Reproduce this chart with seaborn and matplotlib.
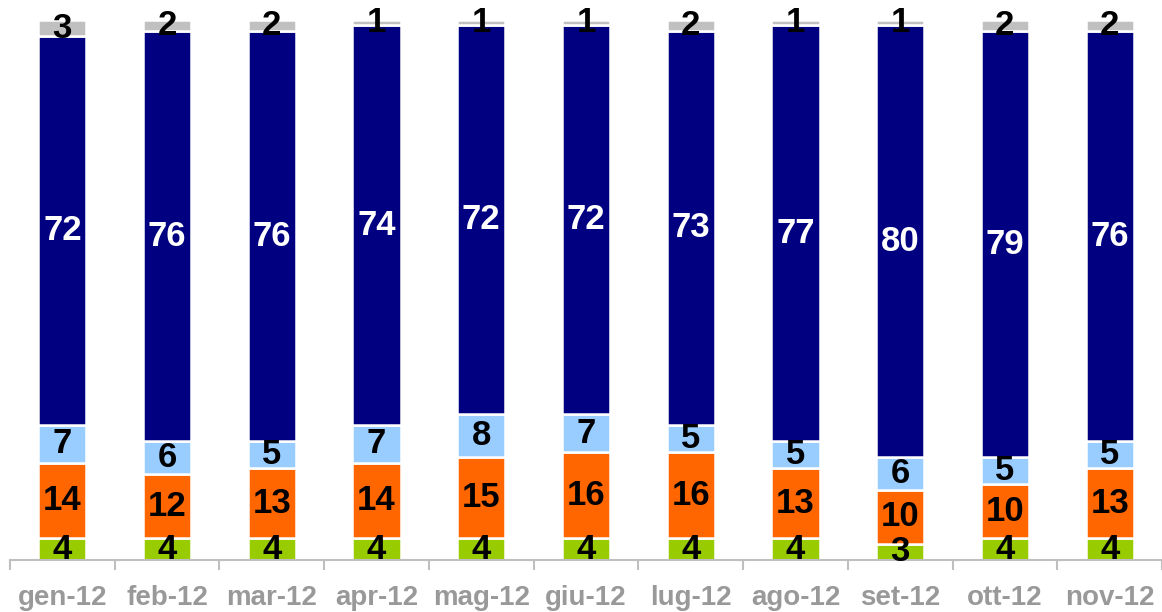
import matplotlib
matplotlib.use("Agg")
import matplotlib.pyplot as plt
import numpy as np
import pandas as pd
import seaborn as sns

months = ["gen-12", "feb-12", "mar-12", "apr-12", "mag-12", "giu-12",
          "lug-12", "ago-12", "set-12", "ott-12", "nov-12"]
green = [4, 4, 4, 4, 4, 4, 4, 4, 3, 4, 4]
orange = [14, 12, 13, 14, 15, 16, 16, 13, 10, 10, 13]
light_blue = [7, 6, 5, 7, 8, 7, 5, 5, 6, 5, 5]
navy = [72, 76, 76, 74, 72, 72, 73, 77, 80, 79, 76]
grey = [3, 2, 2, 1, 1, 1, 2, 1, 1, 2, 2]

series = [
    (green, "#99CC00", "black"),
    (orange, "#FF6600", "black"),
    (light_blue, "#99CCFF", "black"),
    (navy, "#000080", "white"),
    (grey, "#C0C0C0", "black"),
]

sns.set_theme(style="white")
plt.rcParams["font.family"] = ["Liberation Sans", "DejaVu Sans"]

fig = plt.figure(figsize=(11.62, 6.12), dpi=100)
ax = fig.add_axes([10 / 1162, 52 / 612, 1 - 10 / 1162, 540 / 612])

df = pd.DataFrame({"month": months})
cum = np.zeros(len(months))
for vals, col, txt in series:
    df["v"] = vals
    n_before = len(ax.patches)
    sns.barplot(data=df, x="month", y="v", bottom=cum, color=col, width=0.46,
                saturation=1, edgecolor="white", linewidth=1.8, ax=ax)
    bars = ax.patches[n_before:]
    for bar, v, b in zip(bars, vals, cum):
        ax.text(bar.get_x() + bar.get_width() / 2, b + v / 2, str(v),
                ha="center", va="center", color=txt, fontsize=25,
                fontweight="bold")
    cum = cum + np.array(vals)

ax.set_ylim(0, 100)
ax.set_xlim(-0.5, len(months) - 0.5)
ax.set_xlabel("")
ax.set_ylabel("")
ax.set_yticks([])
for s in ["top", "right", "left"]:
    ax.spines[s].set_visible(False)
ax.spines["bottom"].set_color("#BFBFBF")
ax.spines["bottom"].set_linewidth(1.5)
ax.spines["bottom"].set_clip_on(False)

ax.set_xticks(np.arange(len(months)))
ax.set_xticklabels(months, fontsize=20, fontweight="bold", color="#999999")
ax.set_xticks(np.arange(len(months) + 1) - 0.5, minor=True)
ax.tick_params(axis="x", which="major", length=0, pad=18)
ax.tick_params(axis="x", which="minor", length=7, width=1.5, color="#BFBFBF",
               direction="out", bottom=True)

fig.savefig("out.png", dpi=100)
